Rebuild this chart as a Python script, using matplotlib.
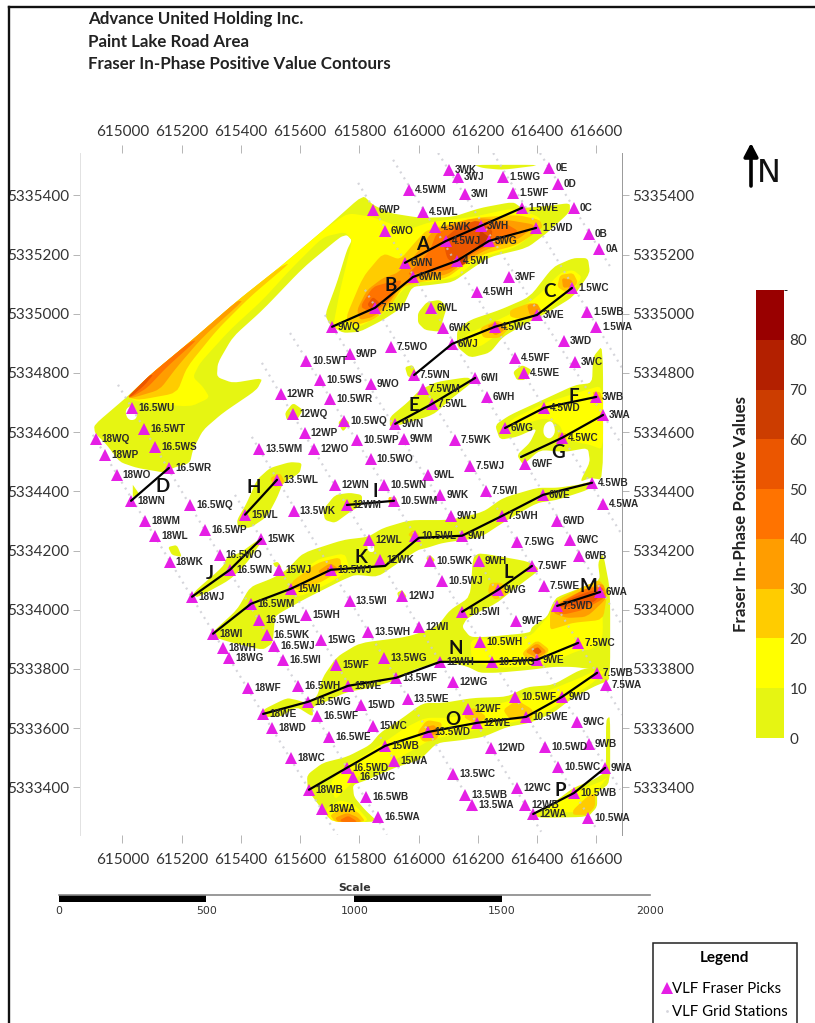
import numpy as np
import matplotlib
matplotlib.use("Agg")
import matplotlib.pyplot as plt
from matplotlib.colors import ListedColormap, BoundaryNorm
from matplotlib.cm import ScalarMappable
from matplotlib.lines import Line2D
from matplotlib.patches import FancyArrowPatch
from matplotlib.transforms import ScaledTranslation

W, H = 815, 1023
plt.rcParams['font.family'] = ['Lato', 'DejaVu Sans']

# ---------- map origin: all map values are metres from this UTM corner ----------
E0, N0 = 615000, 5333000

east_ticks = [615000, 615200, 615400, 615600, 615800, 616000, 616200, 616400, 616600]
north_ticks = [5333400, 5333600, 5333800, 5334000, 5334200, 5334400, 5334600, 5334800, 5335000, 5335200, 5335400]

title_lines = ["Advance United Holding Inc.", "Paint Lake Road Area", "Fraser In-Phase Positive Value Contours"]

band_edges = [0, 10, 20, 30, 40, 50, 60, 70, 80, 90]
band_colors = ['#E6F512', '#FFFF00', '#FFCC00', '#FF9D00', '#FF7300', '#EB5600', '#CC3D00', '#B32000', '#990000']
colorbar_ticks = [0, 10, 20, 30, 40, 50, 60, 70, 80]

# ---------- VLF Fraser picks ----------
pick_labels = [
 '3WK','3WJ','1.5WG','0E','0D','4.5WM','3WI','1.5WF','6WP','4.5WL',
 '1.5WE','0C','4.5WK','3WH','1.5WD','6WO','0B','4.5WJ','3WG','0A',
 '6WN','4.5WI','6WM','3WF','4.5WH','1.5WC','7.5WP','6WL','3WE','1.5WB',
 '1.5WA','6WK','4.5WG','9WQ','3WD','6WJ','7.5WO','9WP','10.5WT','4.5WF',
 '3WC','4.5WE','7.5WN','6WI','10.5WS','9WO','12WR','7.5WM','10.5WR','6WH',
 '3WB','7.5WL','4.5WD','3WA','12WQ','10.5WQ','9WN','6WG','4.5WC','12WP',
 '10.5WP','9WM','7.5WK','13.5WM','12WO','16.5WU','16.5WT','18WQ','16.5WS','18WP',
 '10.5WO','7.5WJ','6WF','18WO','16.5WR','9WL','13.5WL','12WN','10.5WN','9WK',
 '7.5WI','4.5WB','6WE','18WN','16.5WQ','10.5WM','12WM','15WL','13.5WK','4.5WA',
 '18WM','9WJ','7.5WH','6WD','16.5WP','18WL','12WL','10.5WL','9WI','7.5WG',
 '6WC','15WK','16.5WO','6WB','12WK','10.5WK','9WH','7.5WF','18WK','16.5WN',
 '15WJ','13.5WJ','10.5WJ','7.5WE','6WA','12WJ','9WG','13.5WI','18WJ','15WI',
 '16.5WM','7.5WD','10.5WI','16.5WL','9WF','15WH','16.5WK','18WI','16.5WJ','15WG',
 '12WI','13.5WH','10.5WH','7.5WC','18WH','18WG','16.5WI','15WF','13.5WG','12WH',
 '10.5WG','9WE','7.5WB','7.5WA','18WF','16.5WH','15WE','13.5WF','12WG','16.5WG',
 '13.5WE','10.5WF','9WD','18WE','16.5WF','15WD','12WF','15WC','16.5WE','18WD',
 '12WE','10.5WE','9WC','13.5WD','15WB','12WD','10.5WD','9WB','18WC','16.5WD',
 '15WA','13.5WC','16.5WC','10.5WC','9WA','18WB','12WC','16.5WB','13.5WB','12WB',
 '10.5WB','13.5WA','18WA','16.5WA','12WA','10.5WA']
pick_east = [
 1103,1133,1285,1441,1471,968,1157,1319,846,1015,
 1350,1525,1056,1211,1397,887,1576,1093,1238,1610,
 954,1130,981,1306,1198,1518,853,1042,1400,1569,
 1600,1083,1258,708,1491,1113,907,768,620,1326,
 1529,1356,985,1191,667,839,535,1015,701,1231,
 1600,1045,1424,1623,576,748,921,1292,1485,616,
 792,951,1123,461,647,32,73,-90,110,-59,
 839,1174,1360,-19,157,1032,522,718,883,1073,
 1228,1586,1420,29,228,917,758,414,579,1623,
 76,1110,1282,1468,279,110,833,988,1147,1333,
 1512,468,329,1542,870,1039,1204,1383,160,363,
 529,704,1079,1424,1613,944,1268,768,235,569,
 434,1468,1147,461,1329,620,488,306,512,671,
 1002,829,1208,1539,339,360,542,721,883,1073,
 1248,1400,1603,1633,424,593,762,924,1116,627,
 964,1326,1485,475,657,806,1167,846,698,505,
 1198,1363,1535,1032,887,1245,1427,1576,569,758,
 917,1116,779,1471,1630,630,1333,823,1157,1360,
 1525,1181,674,863,1387,1572]
pick_north = [
 2486,2462,2462,2493,2439,2418,2405,2408,2351,2344,
 2358,2358,2293,2297,2290,2280,2270,2246,2246,2219,
 2172,2179,2124,2124,2074,2087,2020,2020,1996,2006,
 1956,1952,1956,1956,1908,1898,1888,1864,1841,1851,
 1837,1800,1793,1783,1777,1763,1729,1746,1712,1719,
 1719,1695,1682,1658,1662,1638,1628,1614,1581,1598,
 1574,1577,1574,1543,1543,1682,1611,1577,1550,1523,
 1510,1486,1493,1456,1479,1456,1439,1422,1422,1388,
 1402,1429,1388,1368,1354,1368,1354,1321,1334,1358,
 1300,1317,1317,1300,1270,1250,1236,1250,1250,1229,
 1236,1239,1185,1182,1168,1165,1165,1148,1162,1135,
 1135,1135,1098,1081,1060,1047,1067,1030,1044,1071,
 1020,1013,993,966,962,983,915,919,878,898,
 942,925,891,888,871,837,831,814,837,824,
 824,831,787,746,736,743,743,770,756,689,
 699,706,706,648,642,679,665,608,571,601,
 618,638,621,587,540,533,537,547,500,466,
 490,446,435,469,466,392,398,368,375,341,
 381,341,327,300,310,297]

# ---------- interpreted conductor axes (through the picks) and their letters ----------
axis_A = ['6WN', '4.5WJ', '3WH', '1.5WE']
axis_B = ['9WQ', '7.5WP', '6WM', '4.5WI', '3WG', '1.5WD']
axis_C = ['7.5WN', '6WJ', '4.5WG', '3WE', '1.5WC']
axis_D = ['18WN', '16.5WR']
axis_E = ['9WN', '7.5WL', '6WI']
axis_F = ['6WG', '4.5WD', '3WB']
axis_G = [(1346, 1516), '4.5WC', '3WA']
axis_H = ['15WL', '13.5WL']
axis_I = ['12WM', '10.5WM']
axis_J = ['18WJ', '16.5WN', '15WK']
axis_K = ['18WI', '16.5WM', '15WI', '13.5WJ', (887, 1148), (1001, 1243), '9WI', '7.5WH', '6WE', '4.5WB']
axis_L = ['10.5WI', '9WG', '7.5WF']
axis_M = ['7.5WD', '6WA']
axis_N = ['18WE', '16.5WG', '15WE', '13.5WF', '12WH', '10.5WG', '9WE', '7.5WC']
axis_O = ['18WB', '16.5WD', '15WB', '13.5WD', '12WE', '10.5WE', '9WD', '7.5WB']
axis_P = ['12WA', '10.5WB', '9WA']
axes_all = [axis_A, axis_B, axis_C, axis_D, axis_E, axis_F, axis_G, axis_H,
            axis_I, axis_J, axis_K, axis_L, axis_M, axis_N, axis_O, axis_P]
axis_letters = list("ABCDEFGHIJKLMNOP")
letter_east = [1012, 904, 1441, 137, 985, 1525, 1471, 444, 853, 296, 806, 1302, 1572, 1127, 1116, 1478]
letter_north = [2233, 2094, 2074, 1415, 1689, 1719, 1530, 1412, 1398, 1121, 1175, 1125, 1077, 868, 628, 388]

# ---------- survey grid lines: (start), (end) ----------
grid_east_a = [-100, -15, 380, 437, 471, 566, 684, 819, 796, 914, 1066, 1252, 1410]
grid_north_a = [1591, 1760, 1388, 1584, 1834, 1935, 1996, 2081, 2442, 2520, 2543, 2543, 2543]
grid_east_b = [728, 893, 937, 1201, 1414, 1603, 1681, 1687, 1687, 1687, 1687, 1687, 1654]
grid_north_b = [233, 240, 459, 307, 250, 256, 392, 645, 949, 1253, 1557, 1817, 2148]

# ---------- contour regions, band 0-10 ----------
strip_0 = [(-96,1624),(15,1719),(93,1793),(228,1905),(387,2043),(532,2158),(691,2293),(812,2401),(846,2368),(903,2340),
 (1005,2324),(1116,2327),(1207,2357),(1319,2378),(1349,2357),(1434,2364),(1511,2374),(1511,2344),(1434,2273),(1366,2222),
 (1241,2192),(1184,2155),(1116,2107),(1039,2097),(978,2091),(947,2023),(880,1979),(802,1939),(745,1935),(701,1962),
 (684,1996),(724,2104),(758,2215),(775,2249),(758,2266),(735,2259),(610,2155),(474,2013),(373,1922),(322,1834),
 (319,1786),(373,1766),(474,1783),(454,1743),(339,1665),(272,1607),(238,1540),(228,1496),(170,1479),(150,1462),
 (49,1479),(-9,1499),(-53,1557),(-93,1597)]
wl6_0 = [(998,2003),(1028,2040),(1072,2047),(1096,2023),(1082,1979),(1072,1939),(1022,1945),(998,1969)]
c_0 = [(1130,1945),(1174,1979),(1275,2013),(1376,2057),(1454,2158),(1522,2188),(1572,2188),(1579,2138),(1522,2057),(1434,2003),
 (1366,1969),(1285,1922),(1241,1868),(1174,1851),(1130,1888)]
wn75_0 = [(954,1820),(981,1827),(998,1786),(964,1786)]
e_0 = [(903,1651),(961,1699),(1005,1743),(1062,1770),(1167,1786),(1184,1770),(1106,1709),(1049,1658),(937,1624),(903,1618)]
we45_0 = [(1319,1803),(1349,1827),(1383,1810),(1359,1776),(1332,1776)]
fg_0 = [(1589,1854),(1623,1895),(1623,1439),(1579,1445),(1545,1432),(1579,1499),(1572,1547),(1495,1533),(1410,1540),(1353,1489),
 (1332,1523),(1376,1564),(1400,1614),(1332,1584),(1275,1574),(1258,1624),(1309,1658),(1420,1709),(1528,1759),(1586,1766)]
h_0 = [(387,1303),(420,1361),(454,1439),(498,1479),(566,1499),(606,1496),(599,1462),(542,1428),(522,1378),(488,1314),(431,1276),(390,1280)]
d_0 = [(35,1422),(59,1388),(35,1381)]
wk18_0 = [(154,1212),(184,1219),(201,1178),(167,1185)]
j_0 = [(238,1057),(339,1145),(353,1178),(397,1192),(458,1236),(474,1236),(420,1158),(363,1101),(251,1040)]
k_0 = [(305,925),(387,1000),(431,1077),(508,1107),(555,1135),(610,1192),(745,1236),(829,1246),(880,1276),(971,1303),
 (1106,1303),(1218,1330),(1285,1378),(1400,1412),(1468,1412),(1539,1422),(1579,1432),(1596,1428),(1572,1405),(1468,1371),
 (1400,1361),(1299,1303),(1207,1243),(1082,1226),(1028,1209),(998,1202),(937,1162),(863,1111),(785,1118),(745,1101),
 (677,1067),(610,1033),(532,989),(515,976),(508,888),(474,864),(373,888),(305,908)]
i_0 = [(677,1337),(718,1388),(768,1395),(809,1388),(809,1354),(768,1330),(718,1293),(684,1303)]
n_0 = [(474,662),(555,702),(589,695),(623,685),(657,706),(677,773),(724,841),(802,888),(961,908),(1062,942),
 (1106,999),(1174,1043),(1184,1178),(1207,1192),(1376,1162),(1410,1135),(1319,1067),(1265,1023),(1164,972),(1147,942),
 (1174,908),(1231,908),(1376,922),(1383,942),(1434,976),(1454,1023),(1468,1043),(1555,1077),(1613,1101),(1606,1158),
 (1623,1192),(1647,1067),(1647,763),(1603,797),(1522,807),(1454,807),(1376,797),(1265,787),(1207,787),(1167,807),
 (1116,820),(1062,820),(981,797),(927,763),(836,736),(758,722),(677,685),(643,672),(643,638),(589,672),(532,638),(474,638)]
o_0 = [(623,442),(677,483),(758,503),(836,543),(870,584),(937,628),(1015,685),(1082,685),(1184,702),(1299,706),
 (1366,739),(1454,746),(1545,797),(1603,807),(1630,807),(1647,763),(1589,739),(1511,695),(1454,651),(1376,618),
 (1299,604),(1218,570),(1150,560),(1062,550),(1005,493),(927,469),(826,425),(778,408),(782,368),(819,324),
 (863,283),(707,283),(657,348),(626,391)]
p_0 = [(1387,307),(1454,347),(1522,398),(1589,425),(1633,452),(1633,628),(1647,641),(1647,415),(1603,381),(1603,334),(1572,300),(1410,297)]
wj12_0 = [(927,1057),(944,1067),(961,1043),(937,1030)]
wq12_0 = [(549,1665),(576,1699),(610,1675),(589,1641),(555,1641)]
wq105_0 = [(728,1631),(745,1651),(768,1631),(745,1601)]
wk105_0 = [(1025,1175),(1039,1185),(1056,1168),(1039,1151)]
wj15_0 = [(508,1158),(525,1162),(539,1141),(515,1145)]
top_0 = [(1184,2503),(1420,2503),(1285,2486),(1218,2492)]

# band 10-20
strip_1 = [(18,1716),(93,1793),(228,1905),(387,2043),(532,2158),(691,2293),(762,2340),(846,2327),(961,2283),(1039,2310),
 (1184,2327),(1319,2357),(1410,2327),(1410,2290),(1332,2226),(1241,2199),(1184,2172),(1130,2124),(1039,2107),(971,2107),
 (927,2057),(876,1996),(792,1952),(735,1945),(711,1955),(735,2080),(768,2215),(775,2249),(751,2276),(677,2259),
 (566,2148),(474,2047),(363,1945),(262,1834),(238,1786),(272,1753),(295,1716),(228,1685),(59,1702)]
c_1 = [(1157,1928),(1231,1962),(1319,2003),(1400,2057),(1478,2138),(1522,2148),(1552,2124),(1522,2080),(1434,2013),(1343,1979),(1265,1928),(1207,1888),(1157,1888)]
fg_1 = [(1623,1759),(1623,1540),(1579,1557),(1495,1574),(1478,1624),(1427,1648),(1343,1624),(1309,1607),(1309,1641),(1427,1699),(1545,1736)]
k_1 = [(549,1067),(650,1168),(751,1192),(768,1135),(701,1091),(599,1043)]
n_1 = [(1174,898),(1241,905),(1376,908),(1427,966),(1461,1006),(1579,1033),(1620,1067),(1623,898),(1579,864),(1545,864),(1427,814),(1275,803),(1180,824)]
o_1 = [(701,418),(751,469),(819,510),(887,554),(954,601),(1022,635),(1106,635),(1191,655),(1292,689),(1427,722),
 (1545,770),(1603,797),(1630,790),(1579,746),(1495,695),(1427,651),(1326,621),(1241,604),(1140,584),(1039,560),
 (971,520),(887,476),(802,442),(751,391),(718,358)]
wa18_1 = [(684,324),(735,358),(785,341),(836,283),(707,283)]
p_1 = [(1434,324),(1511,381),(1613,418),(1640,435),(1603,391),(1589,324),(1501,314)]

# band 20-30
strip_2 = [(18,1716),(93,1793),(228,1905),(387,2043),(532,2158),(566,2172),(431,2057),(319,1945),(218,1820),(184,1732),(59,1709)]
ab_2 = [(751,1979),(812,2124),(880,2205),(937,2182),(995,2249),(1028,2283),(1184,2324),(1332,2334),(1410,2317),(1420,2290),
 (1332,2232),(1231,2205),(1164,2172),(1096,2121),(1005,2107),(947,2091),(903,2023),(846,1979),(792,1962)]
c_2a = [(1207,1952),(1265,1979),(1309,1955),(1275,1918),(1218,1918)]
c_2b = [(1309,2013),(1387,2040),(1420,2003),(1366,1979),(1309,1989)]
c_2c = [(1478,2131),(1522,2138),(1539,2104),(1501,2070),(1468,2091)]
f_2a = [(1586,1736),(1613,1736),(1623,1709),(1603,1699)]
f_2b = [(1471,1597),(1501,1597),(1498,1564),(1471,1564)]
h_2 = [(498,1445),(532,1462),(549,1432),(515,1412)]
i_2a = [(897,1381),(924,1381),(930,1354),(903,1347)]
i_2b = [(751,1364),(775,1361),(758,1344)]
k_2a = [(566,1091),(657,1158),(735,1178),(741,1135),(667,1091),(589,1064)]
k_2b = [(964,1253),(981,1270),(1005,1253),(988,1236)]
l_2 = [(1241,1091),(1285,1091),(1299,1050),(1258,1033),(1234,1060)]
m_2 = [(1444,989),(1468,1033),(1555,1077),(1613,1101),(1637,1057),(1623,966),(1522,956),(1478,942),(1444,932)]
n_2 = [(1349,854),(1400,898),(1444,864),(1410,830),(1366,830)]
o_2a = [(995,584),(1028,628),(1082,618),(1062,560),(1015,553)]
o_2b = [(1150,638),(1184,672),(1231,638),(1197,611)]
o_2c = [(1285,662),(1332,695),(1387,662),(1383,628),(1309,628)]
wa18_2 = [(701,307),(751,331),(795,317),(822,283),(718,283)]
p_2 = [(1522,324),(1569,368),(1596,381),(1596,334),(1569,307),(1522,307)]

# band 30-40
strip_3 = [(18,1716),(93,1793),(228,1905),(387,2043),(407,2043),(272,1922),(184,1820),(126,1743),(35,1716)]
ab_3 = [(792,2013),(826,2080),(880,2121),(930,2138),(995,2205),(1049,2283),(1184,2324),(1299,2317),(1400,2300),(1332,2249),
 (1241,2222),(1164,2182),(1096,2131),(1005,2121),(947,2104),(897,2030),(846,1989),(802,1979)]
c_3a = [(1231,1959),(1265,1972),(1292,1945),(1258,1925)]
c_3b = [(1366,2030),(1400,2036),(1417,2006),(1376,1993)]
c_3c = [(1484,2121),(1518,2114),(1522,2091),(1488,2087)]
k_3 = [(657,1128),(701,1158),(728,1141),(701,1111)]
m_3 = [(1454,989),(1471,1023),(1555,1067),(1623,1091),(1637,1040),(1569,976),(1501,972)]
n_3 = [(1359,858),(1400,888),(1434,858),(1400,837)]
o_3 = [(1022,604),(1055,611),(1066,584),(1032,567)]
wa18_3 = [(718,297),(758,314),(792,300),(809,283),(728,283)]

# band 40-50
strip_4 = [(18,1719),(93,1793),(228,1905),(251,1911),(150,1820),(83,1749),(32,1719)]
a_4 = [(1039,2216),(1062,2276),(1174,2310),(1285,2310),(1343,2276),(1251,2239),(1164,2192),(1106,2148),(1005,2138),(961,2131),(1005,2175)]
b_4 = [(802,2023),(846,2091),(903,2107),(947,2114),(903,2047),(846,2003)]
m_4 = [(1461,999),(1478,1023),(1569,1074),(1623,1077),(1630,1040),(1555,999),(1488,983)]
wa18_4 = [(735,290),(762,304),(785,290),(792,283),(741,283)]

# band 50-60
strip_5 = [(18,1719),(93,1793),(103,1793),(76,1760),(32,1722)]
a_5 = [(1082,2249),(1130,2290),(1197,2317),(1251,2283),(1241,2239),(1174,2215),(1116,2172),(1096,2188)]
b_5 = [(826,2030),(846,2057),(870,2036),(853,2006)]
m_5 = [(1468,1010),(1501,1033),(1589,1067),(1623,1057),(1589,1023),(1511,1010)]
n_5 = [(1383,864),(1403,874),(1417,858),(1400,847)]
k_5 = [(691,1141),(711,1141),(711,1124),(691,1124)]

# band 60-70
a_6a = [(1116,2182),(1147,2195),(1167,2175),(1133,2155)]
a_6b = [(1207,2283),(1241,2256),(1234,2229),(1201,2222)]

bands = [
 (0, [strip_0, wl6_0, c_0, wn75_0, e_0, we45_0, fg_0, h_0, d_0, wk18_0, j_0, k_0, i_0, n_0, o_0, p_0, wj12_0, wq12_0, wq105_0, wk105_0, wj15_0, top_0]),
 (1, [strip_1, c_1, fg_1, k_1, n_1, o_1, wa18_1, p_1]),
 (2, [strip_2, ab_2, c_2a, c_2b, c_2c, f_2a, f_2b, h_2, i_2a, i_2b, k_2a, k_2b, l_2, m_2, n_2, o_2a, o_2b, o_2c, wa18_2, p_2]),
 (3, [strip_3, ab_3, c_3a, c_3b, c_3c, k_3, m_3, n_3, o_3, wa18_3]),
 (4, [strip_4, a_4, b_4, m_4, wa18_4]),
 (5, [strip_5, a_5, b_5, m_5, n_5, k_5]),
 (6, [a_6a, a_6b]),
]

# areas inside a band with no positive value
gap_wu = [(8,1675),(32,1692),(52,1668),(45,1641),(18,1641)]
gap_fg = [(1424,1628),(1451,1641),(1464,1601),(1444,1574),(1420,1591)]
gap_k = [(826,1226),(846,1226),(853,1195),(829,1195)]
gaps = [gap_wu, gap_fg, gap_k]


def rounded(region, passes=2, cut=0.15):
    """Corner-cut a closed outline so the contour reads as a smooth curve."""
    p = np.array(region, float)
    if len(p) < 4:
        return p
    for _ in range(passes):
        q = np.roll(p, -1, axis=0)
        p = np.column_stack([(1 - cut) * p + cut * q, cut * p + (1 - cut) * q]).reshape(-1, 2)
    return p


def px_axes(x0, y0, x1, y1, **kw):
    return fig.add_axes([x0 / W, 1 - y1 / H, (x1 - x0) / W, (y1 - y0) / H], **kw)


fig = plt.figure(figsize=(W / 100, H / 100), dpi=100, facecolor='white')

# outer sheet frame
fig.add_artist(Line2D([8.5 / W, 8.5 / W], [0, 1 - 6.5 / H], color='#111111', lw=1.7))
fig.add_artist(Line2D([8.5 / W, 1], [1 - 6.5 / H, 1 - 6.5 / H], color='#111111', lw=1.7))

for txt, y in zip(title_lines, [19, 42, 64]):
    fig.text(88 / W, 1 - y / H, txt, fontsize=12.2, fontweight='bold', color='#222222', va='center', ha='left')

ax = px_axes(79.5, 153, 622, 835)
ax.set_xlim(E0 - 145, E0 + 1687)
ax.set_ylim(N0 + 239, N0 + 2543)

for idx, regions in bands:
    for reg in regions:
        xy = rounded(reg)
        ax.fill(E0 + xy[:, 0], N0 + xy[:, 1], color=band_colors[idx], lw=0, zorder=2 + idx * 0.1)
for reg in gaps:
    xy = rounded(reg, cut=0.25)
    ax.fill(E0 + xy[:, 0], N0 + xy[:, 1], color='white', lw=0, zorder=2.9)

for xa, ya, xb, yb in zip(grid_east_a, grid_north_a, grid_east_b, grid_north_b):
    ax.plot([E0 + xa, E0 + xb], [N0 + ya, N0 + yb], color='#CBCBD2', lw=1.6, ls=(0, (0.9, 2.2)), alpha=0.8,
            zorder=3)

lookup = {k: (e, n) for k, e, n in zip(pick_labels, pick_east, pick_north)}
for axis in axes_all:
    pts = np.array([lookup[a] if isinstance(a, str) else a for a in axis], float)
    ax.plot(E0 + pts[:, 0], N0 + pts[:, 1], color='black', lw=1.6, zorder=5, solid_capstyle='round')

ax.plot(E0 + np.array(pick_east), N0 + np.array(pick_north), ls='none', marker='^', ms=8,
        mfc='#E51FE5', mec='#E51FE5', mew=0, zorder=4, clip_on=False)
for lab, e, n in zip(pick_labels, pick_east, pick_north):
    ax.annotate(lab, (E0 + e, N0 + n), xytext=(4.3, -0.3), textcoords='offset points', fontsize=7.2,
                family='Liberation Sans', fontweight='bold', color='#2A2A2A', va='center', ha='left', zorder=6,
                annotation_clip=False)
for lab, e, n in zip(axis_letters, letter_east, letter_north):
    ax.text(E0 + e, N0 + n, lab, fontsize=13.5, fontweight='bold', color='#111111', ha='center', va='center', zorder=7)

ax.set_xticks(east_ticks)
ax.set_yticks(north_ticks)
ax.set_xticklabels([str(v) for v in east_ticks])
ax.set_yticklabels([str(v) for v in north_ticks])
ax.tick_params(axis='x', top=True, labeltop=True, bottom=True, labelbottom=True, length=6, width=0.6, color='#AAAAAA',
               labelsize=11, labelcolor='#333333', pad=7)
ax.tick_params(axis='y', left=True, labelleft=True, right=True, labelright=True, length=5, width=0.6, color='#AAAAAA',
               labelsize=11, labelcolor='#333333', pad=2.5)
for t in ax.xaxis.get_major_ticks():
    t.label2.set_transform(t.label2.get_transform() + ScaledTranslation(0, -0.04, fig.dpi_scale_trans))
ax.spines['top'].set_visible(False)
ax.spines['bottom'].set_visible(False)
ax.spines['left'].set_color('#E2E2E2')
ax.spines['left'].set_linewidth(0.7)
ax.spines['right'].set_color('#999999')
ax.spines['right'].set_linewidth(0.7)

# colour scale
cax = px_axes(756, 290, 784, 738)
cmap = ListedColormap(band_colors)
norm = BoundaryNorm(band_edges, cmap.N)
cb = fig.colorbar(ScalarMappable(norm=norm, cmap=cmap), cax=cax, ticks=colorbar_ticks, spacing='proportional')
cb.outline.set_visible(False)
cb.ax.tick_params(length=0, labelsize=11, labelcolor='#333333', pad=4)
cb.ax.yaxis.set_label_position('left')
cb.set_label("Fraser In-Phase Positive Values", fontsize=12.2, fontweight='bold', color='#222222', labelpad=5)

# north arrow
fig.add_artist(FancyArrowPatch(
    (751 / W, 1 - 186 / H), (751 / W, 1 - 143 / H), transform=fig.transFigure,
    arrowstyle='-|>,head_width=4.2,head_length=8', lw=2.6, color='black', shrinkA=0, shrinkB=0, mutation_scale=1))
fig.text(769 / W, 1 - 173 / H, "N", fontsize=23, family='DejaVu Sans', color='#111111', ha='center', va='center')

# scale bar
scale_ticks = [0, 500, 1000, 1500, 2000]
scale_black_start = [0, 1000]
scale_black_width = [500, 500]
sax = px_axes(58.5, 895, 650, 902)
sax.set_xlim(0, 2000)
sax.set_ylim(0, 1)
sax.barh([0.5, 0.5], scale_black_width, left=scale_black_start, height=1, color='black')
sax.axhline(1, color='#888888', lw=1.2, clip_on=False)
sax.set_xticks(scale_ticks)
sax.set_xticklabels([str(v) for v in scale_ticks], family='DejaVu Sans', fontsize=7.8, color='#333333')
sax.set_yticks([])
sax.tick_params(axis='x', length=0, pad=3)
for s in sax.spines.values():
    s.set_visible(False)
sax.text(1000, 1.35, "Scale", family='DejaVu Sans', fontweight='bold', fontsize=7.8, color='#333333',
         ha='center', va='bottom', transform=sax.transData)

# legend
handles = [Line2D([], [], ls='none', marker='^', ms=8, mfc='#E51FE5', mec='#E51FE5', mew=0),
           Line2D([], [], ls='none', marker='o', ms=2, mfc='#D5D5DC', mec='#D5D5DC', mew=0),
           Line2D([], [], ls='none')]
leg = fig.legend(handles, ["VLF Fraser Picks", "VLF Grid Stations", " "], loc='upper left',
                 bbox_to_anchor=(653 / W, 1 - 943 / H), title="Legend", fontsize=10.8, fancybox=False,
                 edgecolor='#222222', framealpha=1, borderpad=0.55, labelspacing=0.62, handletextpad=0.0,
                 handlelength=0.75, borderaxespad=0, title_fontproperties={'weight': 'bold', 'size': 11})
leg.get_frame().set_linewidth(1.1)
leg._legend_box.sep = 12

fig.savefig("out.png", dpi=100, facecolor='white')
